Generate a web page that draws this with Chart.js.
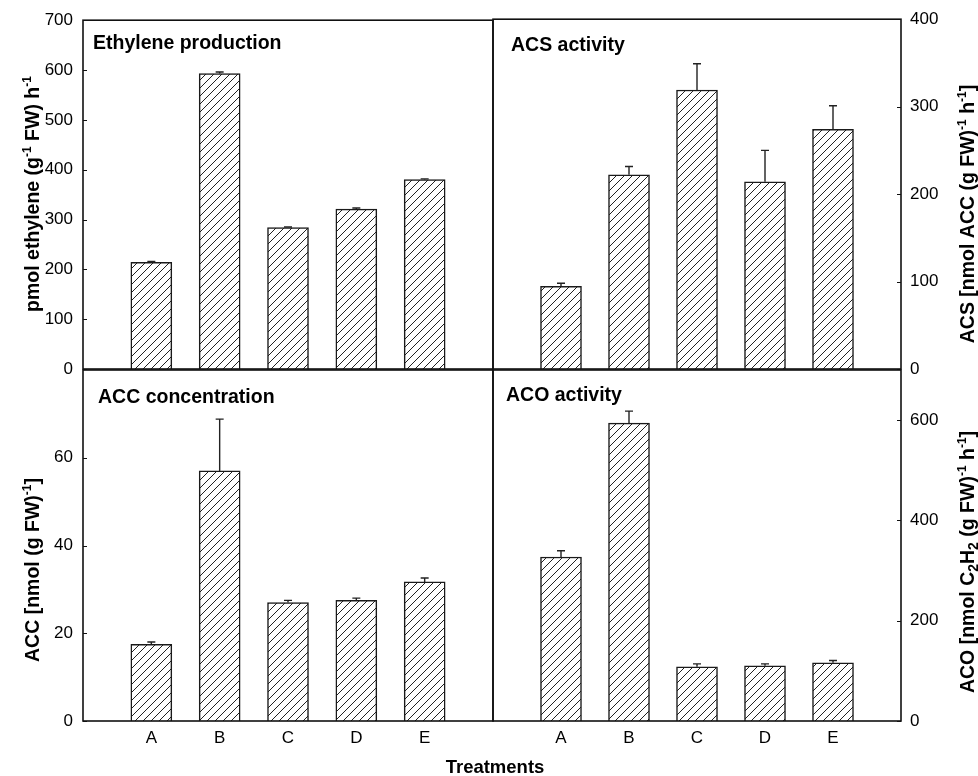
<!DOCTYPE html>
<html lang="en">
<head>
<meta charset="UTF-8">
<title>Ethylene production, ACS activity, ACC concentration, ACO activity</title>
<script src="https://cdn.jsdelivr.net/npm/chart.js@4"></script>
<style>
  body { margin: 0; background: #fff; }
  #wrap { position: relative; width: 978px; height: 776px; }
  #wrap canvas { position: absolute; left: 0; top: 0; }
</style>
</head>
<body>
<div id="wrap">
  <canvas id="ethylene" width="978" height="776"></canvas>
  <canvas id="acs" width="978" height="776"></canvas>
  <canvas id="acc" width="978" height="776"></canvas>
  <canvas id="aco" width="978" height="776"></canvas>
</div>
<script>
// data
const treatments = ['A', 'B', 'C', 'D', 'E'];

const ethylene    = [214, 593, 284, 321, 380];
const ethyleneErr = [2, 3, 1, 2, 1.5];
const acs         = [94.5, 222, 319, 214, 274];
const acsErr      = [3.5, 9.5, 30, 36, 27];
const acc         = [17.5, 57, 27, 27.5, 31.7];
const accErr      = [0.5, 11.8, 0.5, 0.5, 0.9];
const aco         = [327, 594, 108, 110, 116];
const acoErr      = [12.5, 24, 6, 4, 4.7];

const ethyleneTicks = [0, 100, 200, 300, 400, 500, 600, 700];
const acsTicks      = [0, 100, 200, 300, 400];
const accTicks      = [0, 20, 40, 60];
const acoTicks      = [0, 200, 400, 600];

const FONT = '"Liberation Sans", Arial, Helvetica, sans-serif';
const INK = '#111';

function hatch() {
  const c = document.createElement('canvas');
  c.width = 8; c.height = 8;
  const g = c.getContext('2d');
  g.fillStyle = '#fff';
  g.fillRect(0, 0, 8, 8);
  g.strokeStyle = '#222';
  g.lineWidth = 1;
  g.beginPath();
  g.moveTo(0, 8); g.lineTo(8, 0);
  g.moveTo(-1, 1); g.lineTo(1, -1);
  g.moveTo(7, 9); g.lineTo(9, 7);
  g.stroke();
  return g.createPattern(c, 'repeat');
}

// draws a line of text with super/subscripts, rotated to read bottom-to-top
function drawRich(ctx, parts, cx, cy) {
  const fontOf = p => 'bold ' + (p.sup ? 12 : p.sub ? 14 : 19.5) + 'px ' + FONT;
  let total = 0;
  parts.forEach(p => { ctx.font = fontOf(p); p.w = ctx.measureText(p.t).width; total += p.w; });
  ctx.save();
  ctx.translate(cx, cy);
  ctx.rotate(-Math.PI / 2);
  ctx.fillStyle = '#000';
  ctx.textBaseline = 'alphabetic';
  ctx.textAlign = 'left';
  let x = -total / 2;
  parts.forEach(p => {
    ctx.font = fontOf(p);
    const dy = p.sup ? -8 : p.sub ? 4 : 0;
    ctx.fillText(p.t, x, 7 + dy);
    x += p.w;
  });
  ctx.restore();
}

const panelPlugin = {
  id: 'panel',
  afterDatasetsDraw(chart) {
    const o = chart.options.plugins.panel;
    const ctx = chart.ctx;
    const a = chart.chartArea;
    const ys = chart.scales.y;
    const xs = chart.scales.x;

    // error bars (upper only)
    ctx.save();
    ctx.strokeStyle = '#222';
    ctx.lineWidth = 1.4;
    o.values.forEach((v, i) => {
      const x = xs.getPixelForValue(i + 1);
      const y0 = ys.getPixelForValue(v);
      const y1 = ys.getPixelForValue(v + o.errors[i]);
      ctx.beginPath();
      ctx.moveTo(x, y0); ctx.lineTo(x, y1);
      ctx.moveTo(x - 4, y1); ctx.lineTo(x + 4, y1);
      ctx.stroke();
    });

    // frame and inward ticks
    ctx.strokeStyle = INK;
    ctx.lineWidth = 1.6;
    ctx.strokeRect(a.left, a.top, a.right - a.left, a.bottom - a.top);
    ctx.lineWidth = 1;
    ys.ticks.forEach(t => {
      const y = Math.round(ys.getPixelForValue(t.value)) + 0.5;
      ctx.beginPath();
      if (o.right) { ctx.moveTo(a.right, y); ctx.lineTo(a.right - 4, y); }
      else { ctx.moveTo(a.left, y); ctx.lineTo(a.left + 4, y); }
      ctx.stroke();
    });

    // panel title
    ctx.fillStyle = '#000';
    ctx.font = 'bold 19.5px ' + FONT;
    ctx.textAlign = 'left';
    ctx.textBaseline = 'alphabetic';
    ctx.fillText(o.title, o.titleX, o.titleY);

    if (o.xTitle) {
      ctx.font = 'bold 18.5px ' + FONT;
      ctx.textAlign = 'center';
      ctx.textBaseline = 'middle';
      ctx.fillText(o.xTitle, 495, 768);
    }
    ctx.restore();

    drawRich(ctx, o.yTitle, o.yTitleX, o.yTitleY);
  }
};

function makePanel(id, cfg) {
  const right = cfg.right;
  const bottom = cfg.bottom;
  new Chart(document.getElementById(id), {
    type: 'bar',
    data: {
      datasets: [{
        data: cfg.values.map((v, i) => ({ x: i + 1, y: v })),
        backgroundColor: hatch(),
        borderColor: '#1a1a1a',
        borderWidth: 1.5,
        barThickness: 41
      }]
    },
    options: {
      responsive: false,
      animation: false,
      layout: {
        autoPadding: false,
        padding: {
          left: right ? 493 : 0,
          right: right ? 0 : 485,
          top: bottom ? 370 : 18,
          bottom: bottom ? 0 : 407
        }
      },
      scales: {
        x: {
          type: 'linear',
          min: 0, max: 6,
          offset: false,
          display: !!bottom,
          grid: { display: false, drawTicks: false },
          border: { display: false },
          afterBuildTicks: s => { s.ticks = treatments.map((c, i) => ({ value: i + 1 })); },
          afterFit: s => { s.height = bottom ? 55 : 0; },
          ticks: {
            padding: 7,
            color: '#000',
            font: { family: FONT, size: 17 },
            callback: v => treatments[v - 1] || ''
          }
        },
        y: {
          position: right ? 'right' : 'left',
          min: 0, max: cfg.max,
          grid: { display: false, drawTicks: false },
          border: { display: false },
          afterBuildTicks: s => { s.ticks = cfg.ticks.map(v => ({ value: v })); },
          afterFit: s => { s.width = right ? 77 : 83; },
          ticks: {
            padding: right ? 9 : 10,
            color: '#000',
            font: { family: FONT, size: 17 }
          }
        }
      },
      plugins: {
        legend: { display: false },
        tooltip: { enabled: false },
        panel: {
          values: cfg.values,
          errors: cfg.errors,
          right: right,
          title: cfg.title,
          titleX: cfg.titleX,
          titleY: cfg.titleY,
          yTitle: cfg.yTitle,
          yTitleX: cfg.yTitleX,
          yTitleY: cfg.yTitleY,
          xTitle: cfg.xTitle
        }
      }
    },
    plugins: [panelPlugin]
  });
}

makePanel('ethylene', {
  values: ethylene, errors: ethyleneErr, ticks: ethyleneTicks, max: 700,
  title: 'Ethylene production', titleX: 93, titleY: 49,
  yTitle: [{ t: 'pmol ethylene (g' }, { t: '-1', sup: true }, { t: ' FW) h' }, { t: '-1', sup: true }],
  yTitleX: 32, yTitleY: 194
});

makePanel('acs', {
  right: true,
  values: acs, errors: acsErr, ticks: acsTicks, max: 400,
  title: 'ACS activity', titleX: 511, titleY: 51,
  yTitle: [{ t: 'ACS [nmol ACC (g FW)' }, { t: '-1', sup: true }, { t: ' h' }, { t: '-1', sup: true }, { t: ']' }],
  yTitleX: 967, yTitleY: 214
});

makePanel('acc', {
  bottom: true,
  values: acc, errors: accErr, ticks: accTicks, max: 80,
  title: 'ACC concentration', titleX: 98, titleY: 403,
  yTitle: [{ t: 'ACC [nmol (g FW)' }, { t: '-1', sup: true }, { t: ']' }],
  yTitleX: 32, yTitleY: 570,
  xTitle: 'Treatments'
});

makePanel('aco', {
  right: true, bottom: true,
  values: aco, errors: acoErr, ticks: acoTicks, max: 700,
  title: 'ACO activity', titleX: 506, titleY: 401,
  yTitle: [{ t: 'ACO [nmol C' }, { t: '2', sub: true }, { t: 'H' }, { t: '2', sub: true },
           { t: ' (g FW)' }, { t: '-1', sup: true }, { t: ' h' }, { t: '-1', sup: true }, { t: ']' }],
  yTitleX: 967, yTitleY: 562
});
</script>
</body>
</html>
